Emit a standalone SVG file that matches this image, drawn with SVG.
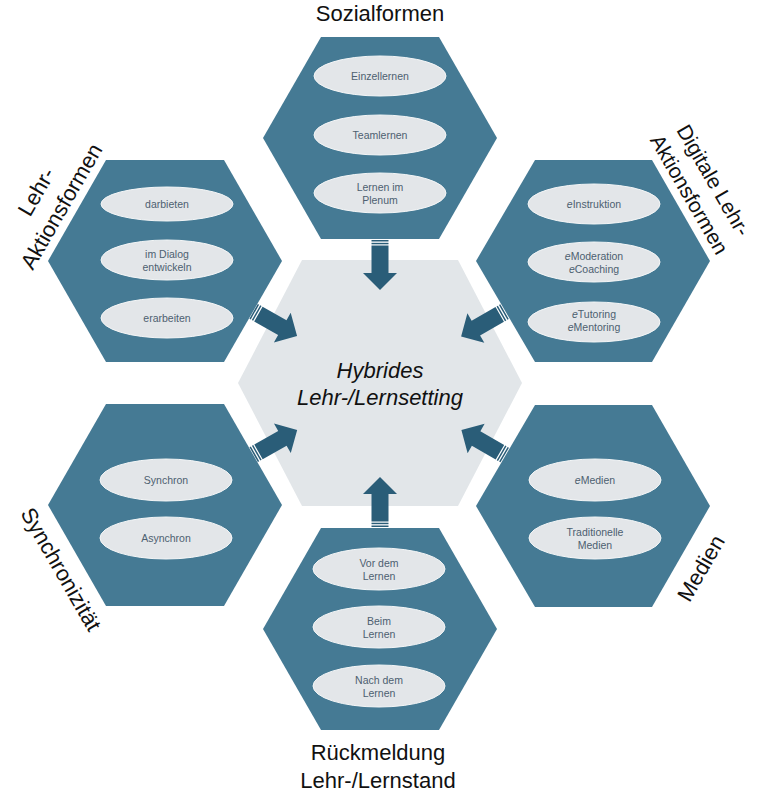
<svg xmlns="http://www.w3.org/2000/svg" width="757" height="792" viewBox="0 0 757 792">
<style>
.hex{fill:#457a94}
.core{fill:#e2e6e9}
.ell{fill:#e3e6e9;stroke:#f4f6f7;stroke-width:1}
.it{font-family:"Liberation Sans",Arial,sans-serif;font-size:10.5px;fill:#4d6070;text-anchor:middle}
.ttl{font-family:"Liberation Sans",Arial,sans-serif;font-size:22px;fill:#111;text-anchor:middle}
.ctr{font-family:"Liberation Sans",Arial,sans-serif;font-size:22px;font-style:italic;fill:#111;text-anchor:middle}
.arr{fill:#2a5d78}
.e{font-style:italic}
</style>
<defs>
<g id="arrow">
<rect x="0" y="-8.5" width="1.5" height="17" class="arr"/>
<rect x="2.8" y="-8.5" width="1.5" height="17" class="arr"/>
<polygon class="arr" points="5.5,-8.5 33,-8.5 33,-17 50,0 33,17 33,8.5 5.5,8.5"/>
</g>
</defs>
<rect width="757" height="792" fill="#ffffff"/>

<g id="center">
<polygon class="core" points="238,383 302,260 458,260 522,383 458,506 302,506"/>
<text class="ctr" x="380" y="378">Hybrides</text>
<text class="ctr" x="380" y="405">Lehr-/Lernsetting</text>
</g>

<g id="sozialformen">
<polygon class="hex" points="263,138 321,37 439,37 497,138 439,239 321,239"/>
<ellipse class="ell" cx="380" cy="76" rx="66" ry="20"/>
<ellipse class="ell" cx="380" cy="135" rx="66" ry="20"/>
<ellipse class="ell" cx="380" cy="193" rx="66" ry="20"/>
<text class="it" x="380" y="80">Einzellernen</text>
<text class="it" x="380" y="139">Teamlernen</text>
<text class="it" x="380" y="190.5">Lernen im</text>
<text class="it" x="380" y="203.5">Plenum</text>
<text class="ttl" x="380" y="21">Sozialformen</text>
</g>

<g id="lehr-aktionsformen">
<polygon class="hex" points="48,261 106,160 224,160 282,261 224,362 106,362"/>
<ellipse class="ell" cx="167" cy="204" rx="66" ry="17"/>
<ellipse class="ell" cx="167" cy="260" rx="66" ry="20"/>
<ellipse class="ell" cx="167" cy="318" rx="66" ry="20"/>
<text class="it" x="167" y="207.5">darbieten</text>
<text class="it" x="167" y="257.5">im Dialog</text>
<text class="it" x="167" y="270.5">entwickeln</text>
<text class="it" x="167" y="321.5">erarbeiten</text>
<g transform="translate(68,210) rotate(-60)">
<text class="ttl" x="0" y="-29">Lehr-</text>
<text class="ttl" x="0" y="0">Aktionsformen</text>
</g>
</g>

<g id="digitale-lehr-aktionsformen">
<polygon class="hex" points="476,261 535,160 652,160 710,261 652,362 535,362"/>
<ellipse class="ell" cx="594" cy="204" rx="66" ry="20"/>
<ellipse class="ell" cx="594" cy="262" rx="66" ry="20"/>
<ellipse class="ell" cx="594" cy="322" rx="66" ry="20"/>
<text class="it" x="594" y="207.5"><tspan class="e">e</tspan>Instruktion</text>
<text class="it" x="594" y="259.5"><tspan class="e">e</tspan>Moderation</text>
<text class="it" x="594" y="272.5"><tspan class="e">e</tspan>Coaching</text>
<text class="it" x="594" y="317.5"><tspan class="e">e</tspan>Tutoring</text>
<text class="it" x="594" y="330.5"><tspan class="e">e</tspan>Mentoring</text>
<g transform="translate(683,198) rotate(60)">
<text class="ttl" x="0" y="-28" style="font-size:21px">Digitale Lehr-</text>
<text class="ttl" x="0" y="0" style="font-size:21px">Aktionsformen</text>
</g>
</g>

<g id="synchronizitaet">
<polygon class="hex" points="48,505 106,404 224,404 282,505 224,606 106,606"/>
<ellipse class="ell" cx="166" cy="480" rx="66" ry="21"/>
<ellipse class="ell" cx="166" cy="538" rx="66" ry="21"/>
<text class="it" x="166" y="484">Synchron</text>
<text class="it" x="166" y="542">Asynchron</text>
<g transform="translate(54.5,573) rotate(60)">
<text class="ttl" x="0" y="0">Synchronizität</text>
</g>
</g>

<g id="medien">
<polygon class="hex" points="476,506 535,405 652,405 710,506 652,607 535,607"/>
<ellipse class="ell" cx="595" cy="480" rx="66" ry="21"/>
<ellipse class="ell" cx="595" cy="538" rx="66" ry="21"/>
<text class="it" x="595" y="484"><tspan class="e">e</tspan>Medien</text>
<text class="it" x="595" y="535.5">Traditionelle</text>
<text class="it" x="595" y="548.5">Medien</text>
<g transform="translate(707.5,572) rotate(-60)">
<text class="ttl" x="0" y="0">Medien</text>
</g>
</g>

<g id="rueckmeldung">
<polygon class="hex" points="263,629 321,528 439,528 497,629 439,730 321,730"/>
<ellipse class="ell" cx="379" cy="569" rx="66" ry="21"/>
<ellipse class="ell" cx="379" cy="627" rx="66" ry="21"/>
<ellipse class="ell" cx="379" cy="686" rx="66" ry="21"/>
<text class="it" x="379" y="566.5">Vor dem</text>
<text class="it" x="379" y="579.5">Lernen</text>
<text class="it" x="379" y="624.5">Beim</text>
<text class="it" x="379" y="637.5">Lernen</text>
<text class="it" x="379" y="683.5">Nach dem</text>
<text class="it" x="379" y="696.5">Lernen</text>
<text class="ttl" x="378" y="760">Rückmeldung</text>
<text class="ttl" x="378" y="788">Lehr-/Lernstand</text>
</g>

<g id="connectors">
<use href="#arrow" transform="translate(380,240) rotate(90)"/>
<use href="#arrow" transform="translate(380,527) rotate(-90)"/>
<use href="#arrow" transform="translate(253.6,311.3) rotate(29.6)"/>
<use href="#arrow" transform="translate(504.5,311.7) rotate(150.2)"/>
<use href="#arrow" transform="translate(253.7,454.6) rotate(-29.6)"/>
<use href="#arrow" transform="translate(504.7,455) rotate(-150)"/>
</g>
</svg>
